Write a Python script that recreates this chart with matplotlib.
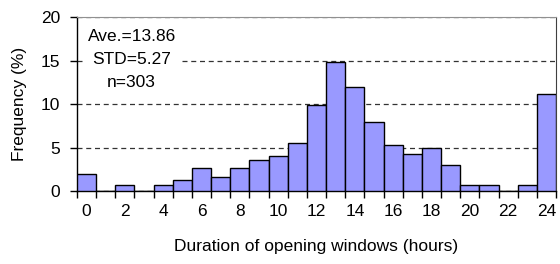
import numpy as np
import matplotlib
matplotlib.use("Agg")
import matplotlib.pyplot as plt

plt.rcParams['font.family'] = ['Liberation Sans', 'DejaVu Sans']

# duration bins (hours) and frequency (%)
hours = list(range(0, 25))
freq = [2.0, 0.0, 0.7, 0.0, 0.7, 1.3, 2.6, 1.6, 2.6, 3.6, 4.0, 5.5, 9.9,
        14.8, 11.9, 7.9, 5.3, 4.3, 5.0, 3.0, 0.7, 0.7, 0.0, 0.7, 11.2]
tick_labels = [str(h) for h in range(0, 25, 2)]
stats_text = "Ave.=13.86\nSTD=5.27\nn=303"

fig = plt.figure(figsize=(5.6, 2.64), dpi=100)
ax = fig.add_axes([0.1375, 0.2765, 0.8555, 0.6591])

ax.bar(hours, freq, width=1.0, color='#9999ff', edgecolor='black', linewidth=1.0, zorder=3)

ax.set_xlim(-0.5, 24.5)
ax.set_ylim(0, 20)
ax.set_yticks([0, 5, 10, 15, 20])
ax.yaxis.grid(True, linestyle=(0, (4, 3)), color='#333333', linewidth=0.9, zorder=1)
ax.set_axisbelow(True)

# tick marks between categories, labels under every second bar
ax.set_xticks(np.arange(-0.5, 25, 1.0))
ax.set_xticklabels([])
ax.set_xticks(range(0, 25, 2), minor=True)
ax.set_xticklabels(tick_labels, minor=True)
ax.tick_params(axis='x', which='major', direction='out', length=5, width=1, color='black')
ax.tick_params(axis='x', which='minor', length=0, pad=9, labelsize=12.5)
ax.tick_params(axis='y', direction='out', length=5, width=1, labelsize=12.5, pad=7)

for s in ['left', 'bottom']:
    ax.spines[s].set_color('black')
    ax.spines[s].set_linewidth(1.0)
ax.spines['right'].set_color('#404040')
ax.spines['top'].set_color('#909090')

ax.set_xlabel('Duration of opening windows (hours)', fontsize=12.5, labelpad=15)
ax.set_ylabel('Frequency (%)', fontsize=12.5, labelpad=10)

ax.text(2.35, 18.6, stats_text, ha='center', va='top', multialignment='center',
        fontsize=12.5, linespacing=1.65, zorder=4,
        bbox=dict(facecolor='white', edgecolor='none', pad=3))

fig.savefig('out.png', dpi=100)
